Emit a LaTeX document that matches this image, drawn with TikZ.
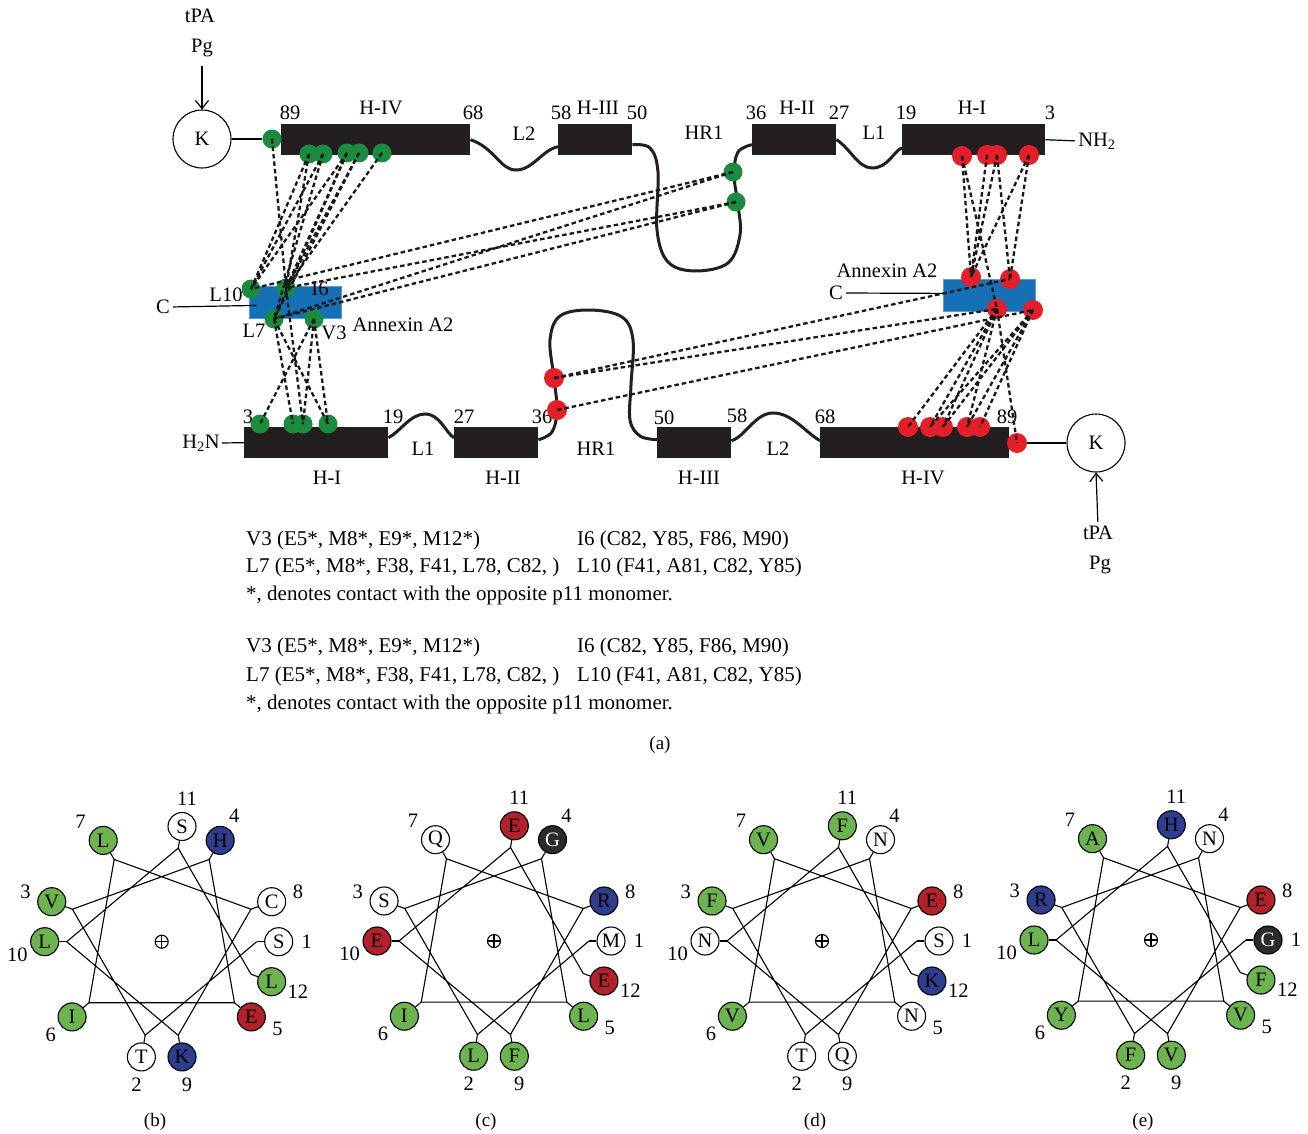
\documentclass[tikz,border=0pt]{standalone}
\usepackage{fontspec}
\setmainfont{Liberation Serif}
\usetikzlibrary{arrows.meta}
\definecolor{dotg}{HTML}{1B8B3F}
\definecolor{dotr}{HTML}{E3202A}
\definecolor{annex}{HTML}{1670B6}
\definecolor{barc}{HTML}{231F20}
\definecolor{wgreen}{HTML}{6DB34F}
\definecolor{wblue}{HTML}{2E3D8E}
\definecolor{wred}{HTML}{B1222B}
\definecolor{wblack}{HTML}{2B2B2B}
\newcommand{\helwheel}[4]{%
  \begin{scope}[shift={(#2,#3)}]
    \draw[wline] (0,0) circle[radius=6.5pt];
    \draw[wline] (-6.5,0) -- (6.5,0) (0,-6.5) -- (0,6.5);
    \foreach \nn/\lt/\fc/\tc in {#4} {
      \pgfmathsetmacro\ang{(\nn-1)*100}
      \pgfmathsetmacro\dl{(\nn==7)*(-4)+(\nn==10)*(-5)+(\nn==5)*(-3)}
      \node[res, fill=\fc, text=\tc] (#1r\nn) at ({117*cos(\ang)},{117*sin(\ang)}) {\lt};
      \coordinate (#1v\nn) at ({95*cos(\ang)},{95*sin(\ang)});
      \node[lbl] (#1n\nn) at ({145*cos(\ang+\dl)},{145*sin(\ang+\dl)}) {\nn};
      \draw[wline] (#1v\nn) -- (#1r\nn);
    }
    \draw[wline] (#1v1) -- (#1v2) -- (#1v3) -- (#1v4) -- (#1v5) -- (#1v6) -- (#1v7) -- (#1v8) -- (#1v9) -- (#1v10) -- (#1v11) -- (#1v12);
  \end{scope}}
\begin{document}
\begin{tikzpicture}[x=1pt,y=-1pt,
  lbl/.style={font=\fontsize{20.5}{24}\selectfont, inner sep=0pt},
  txt/.style={font=\fontsize{21}{25}\selectfont, inner sep=0pt, anchor=west},
  captxt/.style={font=\fontsize{19}{22}\selectfont, inner sep=0pt},
  bar/.style={fill=barc, draw=none, anchor=north west, inner sep=0pt, minimum height=31pt},
  gdot/.style={circle, fill=dotg, inner sep=0pt, minimum size=19pt},
  rdot/.style={circle, fill=dotr, inner sep=0pt, minimum size=20pt},
  contact/.style={line width=2.3pt, dash pattern=on 4.5pt off 3pt, color=black!90},
  wave/.style={line width=3pt, color=barc},
  kcirc/.style={circle, draw, line width=1.1pt, minimum size=58pt, inner sep=0pt, font=\fontsize{20.5}{24}\selectfont},
  annexbox/.style={fill=annex, draw=annex!70!white, line width=0.8pt, anchor=north west, inner sep=0pt, minimum width=92pt, minimum height=32pt},
  plainline/.style={line width=1.2pt},
  res/.style={circle, draw, line width=1.1pt, minimum size=28pt, inner sep=0pt, font=\fontsize{20.5}{24}\selectfont},
  wline/.style={line width=1.1pt},
  arr/.style={plainline, -{Straight Barb[length=8pt,width=13pt]}},
]
\fill[white] (0,0) rectangle (1308,1134);
\useasboundingbox (0,0) rectangle (1308,1134);

% ---------------- top monomer ----------------
\node[kcirc] (tK) at (202,139) {K};
\node[lbl] (ttpa) at (200,16) {tPA};
\node[lbl] (tpg) at (202,48) {Pg};
\draw[arr, shorten <=9pt] (tpg.south) -- (tK.north);

\node[bar, minimum width=189pt] (th4) at (281,124) {};
\node[bar, minimum width=74pt] (th3) at (558,124) {};
\node[bar, minimum width=84pt] (th2) at (752,124) {};
\node[bar, minimum width=143pt] (th1) at (902,124) {};

\draw[wave] (th4.east) .. controls (495,148) and (500,170) .. (516,170) .. controls (533,170) and (542,150) .. ([yshift=-7pt]th3.west);
\draw[wave] plot[smooth, tension=0.6] coordinates {([yshift=-5pt]th3.east) (650,148) (658,172) (657,230) (668,262) (695,271) (728,263) (740,235) (738,205) (734,175) (738,152) ([yshift=-5pt]th2.west)};
\draw[wave] (th2.east) .. controls (850,148) and (858,168) .. (872,168) .. controls (888,168) and (893,152) .. ([yshift=-8pt]th1.west);

\node[lbl] at (290,113) {89};
\node[lbl] at (381,108) {H-IV};
\node[lbl] at (473,113) {68};
\node[lbl] at (524,134) {L2};
\node[lbl] at (561,113) {58};
\node[lbl] at (598,108) {H-III};
\node[lbl] at (637,113) {50};
\node[lbl] at (704,133) {HR1};
\node[lbl] at (756,113) {36};
\node[lbl] at (797,108) {H-II};
\node[lbl] at (839,113) {27};
\node[lbl] at (874,133) {L1};
\node[lbl] at (906,113) {19};
\node[lbl] at (972,108) {H-I};
\node[lbl] at (1050,113) {3};
\node[lbl] (nh2) at (1097,141) {NH\textsubscript{2}};
\draw[plainline, shorten >=3pt] (th1.east) -- (nh2.west);

% ---------------- bottom monomer ----------------
\node[lbl] (h2n) at (201,443) {H\textsubscript{2}N};
\node[bar, minimum width=144pt] (bh1) at (244,427) {};
\node[bar, minimum width=84pt] (bh2) at (454,427) {};
\node[bar, minimum width=74pt] (bh3) at (657,427) {};
\node[bar, minimum width=189pt] (bh4) at (820,427) {};
\draw[plainline, shorten <=2pt] (h2n.east) -- (bh1.west);

\draw[wave] ([yshift=5pt]bh1.east) .. controls (400,432) and (410,414) .. (425,414) .. controls (440,414) and (445,432) .. ([yshift=5pt]bh2.west);
\draw[wave] plot[smooth, tension=0.6] coordinates {([yshift=3pt]bh2.east) (552,432) (557,410) (554,378) (550,340) (560,316) (590,310) (622,317) (633,340) (631,385) (630,420) (640,436) ([yshift=3pt]bh3.west)};
\draw[wave] ([yshift=2pt]bh3.east) .. controls (745,437) and (755,413) .. (773,413) .. controls (792,413) and (805,432) .. ([yshift=2pt]bh4.west);

\node[lbl] at (248,417) {3};
\node[lbl] at (393,417) {19};
\node[lbl] at (464,417) {27};
\node[lbl] at (542,417) {36};
\node[lbl] at (664,418) {50};
\node[lbl] at (737,416) {58};
\node[lbl] at (825,417) {68};
\node[lbl] at (1007,417) {89};
\node[lbl] at (423,449) {L1};
\node[lbl] at (596,449) {HR1};
\node[lbl] at (778,449) {L2};
\node[lbl] at (327,478) {H-I};
\node[lbl] at (503,478) {H-II};
\node[lbl] at (699,478) {H-III};
\node[lbl] at (923,478) {H-IV};

\node[kcirc] (bK) at (1096,443) {K};
\node[lbl] (btpa) at (1098,533) {tPA};
\node[lbl] (bpg) at (1100,565) {Pg};
\draw[arr, shorten <=4pt] (btpa.north) -- (bK.south);

% ---------------- annexin boxes ----------------
\node[annexbox] (annL) at (249,286) {};
\node[annexbox] (annR) at (943,279) {};
\node[lbl] (cL) at (163,307) {C};
\draw[plainline, shorten <=3pt] (cL.east) -- ([xshift=8pt,yshift=-3pt]annL.west);
\node[lbl] (cR) at (836,293) {C};
\draw[plainline, shorten <=3pt] (cR.east) -- ([yshift=2pt]annR.west);
\node[lbl] at (226,295) {L10};
\node[lbl] at (320,289) {I6};
\node[lbl] at (254,331) {L7};
\node[lbl] at (334,333) {V3};
\node[lbl] at (403,325) {Annexin A2};
\node[lbl] at (887,271) {Annexin A2};

% ---------------- dots ----------------
\node[gdot] (g0) at (272,139) {};
\draw[plainline] (tK.east) -- (g0);
\node[gdot] (g1) at (309,154) {};
\node[gdot] (g2) at (323,154) {};
\node[gdot] (g3) at (347,153) {};
\node[gdot] (g4) at (359,153) {};
\node[gdot] (g5) at (382,153) {};
\node[gdot] (gh1) at (733,172) {};
\node[gdot] (gh2) at (736,202) {};
\node[gdot] (aL10) at (251,289) {};
\node[gdot] (aI6) at (286,288) {};
\node[gdot] (aL7) at (274,319) {};
\node[gdot] (aV3) at (314,319) {};
\node[gdot] (gb1) at (260,424) {};
\node[gdot] (gb2) at (293,424) {};
\node[gdot] (gb3) at (303,424) {};
\node[gdot] (gb4) at (328,424) {};

\node[rdot] (r1) at (962,156) {};
\node[rdot] (r2) at (987,155) {};
\node[rdot] (r3) at (997,155) {};
\node[rdot] (r4) at (1029,155) {};
\node[rdot] (ra) at (971,277) {};
\node[rdot] (rb) at (1010,279) {};
\node[rdot] (rc) at (997,309) {};
\node[rdot] (rd) at (1033,310) {};
\node[rdot] (rh1) at (554,378) {};
\node[rdot] (rh2) at (557,410) {};
\node[rdot] (rb1) at (908,427) {};
\node[rdot] (rb2) at (930,427) {};
\node[rdot] (rb3) at (943,427) {};
\node[rdot] (rb4) at (967,427) {};
\node[rdot] (rb5) at (980,427) {};
\node[rdot] (rb6) at (1017,443) {};
\draw[plainline] (rb6) -- (bK);

% ---------------- contacts ----------------
\foreach \a/\b in {g0/aI6, g1/aL10, g1/aI6, g2/aL10, g2/aL7, g3/aL10, g3/aI6, g3/aL7, g4/aI6, g4/aL7, g5/aI6,
  gh1/aL10, gh1/aL7, gh2/aI6, gh2/aL7,
  aV3/gb1, aV3/gb3, aV3/gb4, aL7/gb2, aL7/gb4, aI6/gb3,
  r1/ra, r1/rc, r2/ra, r3/ra, r3/rb, r4/ra, r4/rb,
  rh1/rb, rh1/rc, rh2/rd,
  rc/rb1, rc/rb2, rd/rb2, rc/rb3, rd/rb3, rc/rb4, rd/rb4, rd/rb5, rc/rb6}
  \draw[contact] (\a.center) -- (\b.center);

% ---------------- text ----------------
\node[txt] (tx1) at (246,540) {V3 (E5*, M8*, E9*, M12*)};
\node[txt] (tx2) at (577,540) {I6 (C82, Y85, F86, M90)};
\node[txt] (tx3) at (246,567) {L7 (E5*, M8*, F38, F41, L78, C82, )};
\node[txt] (tx4) at (577,567) {L10 (F41, A81, C82, Y85)};
\node[txt] (tx5) at (246,595) {*, denotes contact with the opposite p11 monomer.};
\node[txt] (tx6) at (246,647) {V3 (E5*, M8*, E9*, M12*)};
\node[txt] (tx7) at (577,647) {I6 (C82, Y85, F86, M90)};
\node[txt] (tx8) at (246,676) {L7 (E5*, M8*, F38, F41, L78, C82, )};
\node[txt] (tx9) at (577,676) {L10 (F41, A81, C82, Y85)};
\node[txt] (tx10) at (246,704) {*, denotes contact with the opposite p11 monomer.};
\node[captxt] (capa) at (660,745) {(a)};

% ---------------- helical wheels ----------------
\helwheel{wb}{161.7}{941.7}{1/S/white/black, 2/T/white/black, 3/V/wgreen/black, 4/H/wblue/black, 5/E/wred/black, 6/I/wgreen/black, 7/L/wgreen/black, 8/C/white/black, 9/K/wblue/black, 10/L/wgreen/black, 11/S/white/black, 12/L/wgreen/black}
\helwheel{wc}{494}{941}{1/M/white/black, 2/L/wgreen/black, 3/S/white/black, 4/G/wblack/white, 5/L/wgreen/black, 6/I/wgreen/black, 7/Q/white/black, 8/R/wblue/black, 9/F/wgreen/black, 10/E/wred/black, 11/E/wred/black, 12/E/wred/black}
\helwheel{wd}{822}{941}{1/S/white/black, 2/T/white/black, 3/F/wgreen/black, 4/N/white/black, 5/N/white/black, 6/V/wgreen/black, 7/V/wgreen/black, 8/E/wred/black, 9/Q/white/black, 10/N/white/black, 11/F/wgreen/black, 12/K/wblue/black}
\helwheel{we}{1151}{940}{1/G/wblack/white, 2/F/wgreen/black, 3/R/wblue/black, 4/N/white/black, 5/V/wgreen/black, 6/Y/wgreen/black, 7/A/wgreen/black, 8/E/wred/black, 9/V/wgreen/black, 10/L/wgreen/black, 11/H/wblue/black, 12/F/wgreen/black}
\node[captxt] (capb) at (155,1122) {(b)};
\node[captxt] (capc) at (486,1122) {(c)};
\node[captxt] (capd) at (815,1122) {(d)};
\node[captxt] (cape) at (1143,1122) {(e)};
\end{tikzpicture}
\end{document}
